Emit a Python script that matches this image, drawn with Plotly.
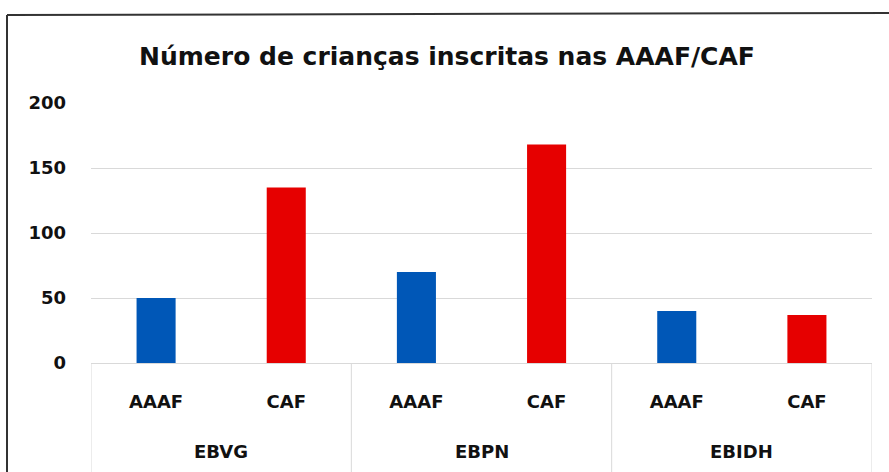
import plotly.graph_objects as go

schools = ["EBVG", "EBPN", "EBIDH"]
services = ["AAAF", "CAF", "AAAF", "CAF", "AAAF", "CAF"]
children = [50, 135, 70, 168, 40, 37]
bar_colors = ["#0057b7", "#e60000", "#0057b7", "#e60000", "#0057b7", "#e60000"]

W, H = 889, 472
L, R, T, B = 91, 17, 103, 109
pw, ph = W - L - R, H - T - B


def px_x(x):
    return (x - L) / pw


def px_y(y):
    return (H - B - y) / ph


pos = list(range(len(services)))
per_group = len(services) // len(schools)

fig = go.Figure()
fig.add_trace(go.Bar(
    x=pos,
    y=children,
    marker=dict(color=bar_colors, line=dict(width=0)),
    width=0.3,
))

font = "DejaVu Sans, Verdana, sans-serif"
grey = "#d9d9d9"

fig.update_layout(
    width=W, height=H,
    margin=dict(l=L, r=R, t=T, b=B, autoexpand=False),
    paper_bgcolor="white",
    plot_bgcolor="white",
    showlegend=False,
    title=dict(
        text="Número de crianças inscritas nas AAAF/CAF",
        x=px_x(447), xref="paper", xanchor="center",
        y=1 - 56 / H, yref="container", yanchor="middle",
        font=dict(family=font, size=25, color="#111", weight="bold"),
    ),
    font=dict(family=font, color="#111"),
)

fig.update_yaxes(
    range=[0, 200],
    tickvals=[0, 50, 100, 150, 200],
    tickfont=dict(size=18, family=font, color="#111", weight="bold"),
    showgrid=True, gridcolor=grey, gridwidth=1,
    zeroline=False, showline=False,
    ticklabelstandoff=24,
)

fig.update_xaxes(
    range=[-0.5, len(services) - 0.5],
    tickvals=pos, ticktext=services,
    tickfont=dict(size=18, family=font, color="#111", weight="bold"),
    showline=True, linecolor=grey, linewidth=1,
    ticks="", showgrid=False, zeroline=False,
    ticklabelstandoff=22,
)

# group labels and table dividers under the axis
for g, name in enumerate(schools):
    fig.add_annotation(
        x=g * per_group + (per_group - 1) / 2, xref="x",
        y=px_y(451), yref="paper", yanchor="middle",
        text=name, showarrow=False,
        font=dict(size=18, family=font, color="#111", weight="bold"),
    )
for g in range(len(schools) + 1):
    xb = g * per_group - 0.5
    fig.add_shape(type="line", xref="x", yref="paper",
                  x0=xb, x1=xb, y0=0, y1=px_y(472),
                  line=dict(color=grey, width=1))

# outer chart frame (top and left edges visible)
fig.add_shape(type="line", xref="paper", yref="paper",
              x0=px_x(7), x1=px_x(889), y0=px_y(15), y1=px_y(13),
              line=dict(color="#333", width=2))
fig.add_shape(type="line", xref="paper", yref="paper",
              x0=px_x(7), x1=px_x(7), y0=px_y(15), y1=px_y(472),
              line=dict(color="#333", width=2))

fig.write_html("out.html", config={"displayModeBar": False},
               post_script="document.body.style.margin='0';")
